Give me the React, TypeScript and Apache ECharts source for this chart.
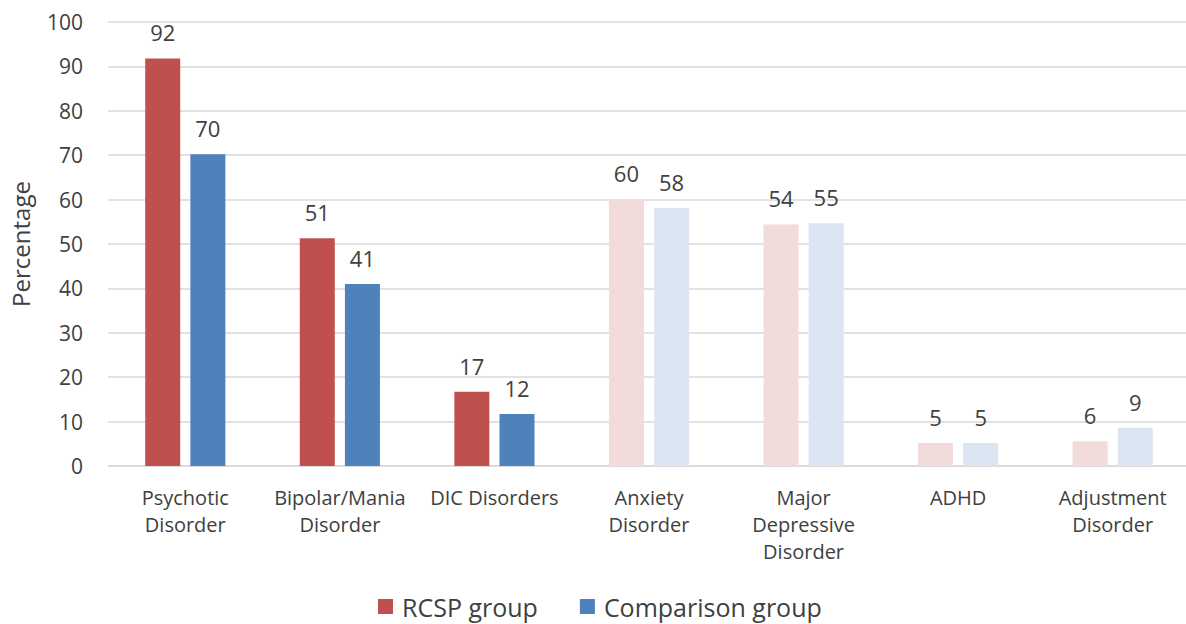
import React, { useEffect, useRef } from "react";
import * as echarts from "echarts";

const categories = [
  "Psychotic\nDisorder",
  "Bipolar/Mania\nDisorder",
  "DIC Disorders",
  "Anxiety\nDisorder",
  "Major\nDepressive\nDisorder",
  "ADHD",
  "Adjustment\nDisorder",
];
const rcspValues = [91.8, 51.3, 16.7, 60.1, 54.4, 5.2, 5.6];
const comparisonValues = [70.2, 41.0, 11.7, 58.1, 54.7, 5.2, 8.6];
const highlighted = [true, true, true, false, false, false, false];
const yTicks = { min: 0, max: 100, interval: 10 };

const RED = "#C0504D";
const BLUE = "#4F81BD";
const RED_LIGHT = "#F2DCDB";
const BLUE_LIGHT = "#DCE6F2";
const TEXT = "#404040";
const FONT = "'Open Sans', 'Noto Sans', sans-serif";

export default function App() {
  const ref = useRef<HTMLDivElement>(null);
  useEffect(() => {
    if (!ref.current) return;
    const chart = echarts.init(ref.current, undefined, { renderer: "svg" });
    const label = {
      show: true,
      position: "top" as const,
      distance: 15,
      color: TEXT,
      fontSize: 22,
      fontFamily: FONT,
      formatter: (p: any) => String(Math.round(p.value)),
    };
    chart.setOption({
      animation: false,
      textStyle: { fontFamily: FONT, color: TEXT },
      grid: { left: 107, right: 10, top: 22, bottom: 158 },
      legend: {
        data: ["RCSP group", "Comparison group"],
        top: 594,
        left: 378,
        padding: 0,
        icon: "rect",
        itemWidth: 15,
        itemHeight: 15,
        itemGap: 42,
        textStyle: {
          fontSize: 25,
          lineHeight: 24,
          color: TEXT,
          fontFamily: FONT,
          padding: [0, 0, 0, 4],
        },
      },
      xAxis: {
        type: "category",
        data: categories,
        axisLine: { show: true, lineStyle: { color: "#D9D9D9", width: 1.5 } },
        axisTick: { show: false },
        axisLabel: {
          interval: 0,
          color: TEXT,
          fontSize: 20,
          lineHeight: 27,
          fontFamily: FONT,
          margin: 18,
        },
      },
      yAxis: {
        type: "value",
        min: yTicks.min,
        max: yTicks.max,
        interval: yTicks.interval,
        name: "Percentage",
        nameLocation: "middle",
        nameGap: 76,
        nameTextStyle: { fontSize: 24, color: TEXT, fontFamily: FONT },
        axisLine: { show: false },
        axisTick: { show: false },
        axisLabel: { color: TEXT, fontSize: 21, fontFamily: FONT, margin: 25 },
        splitLine: { lineStyle: { color: "#D9D9D9", width: 1.5 } },
      },
      series: [
        {
          name: "RCSP group",
          type: "bar",
          barWidth: 35,
          barGap: "29%",
          itemStyle: { color: RED },
          label,
          data: rcspValues.map((v, i) => ({
            value: v,
            itemStyle: { color: highlighted[i] ? RED : RED_LIGHT },
          })),
        },
        {
          name: "Comparison group",
          type: "bar",
          barWidth: 35,
          barGap: "29%",
          itemStyle: { color: BLUE },
          label,
          data: comparisonValues.map((v, i) => ({
            value: v,
            itemStyle: { color: highlighted[i] ? BLUE : BLUE_LIGHT },
          })),
        },
      ],
    });
    return () => chart.dispose();
  }, []);
  return (
    <div
      style={{
        position: "fixed",
        left: 0,
        top: 0,
        width: 1186,
        height: 624,
        overflow: "hidden",
        background: "#fff",
      }}
    >
      <div ref={ref} style={{ width: 1200, height: 624 }} />
    </div>
  );
}
